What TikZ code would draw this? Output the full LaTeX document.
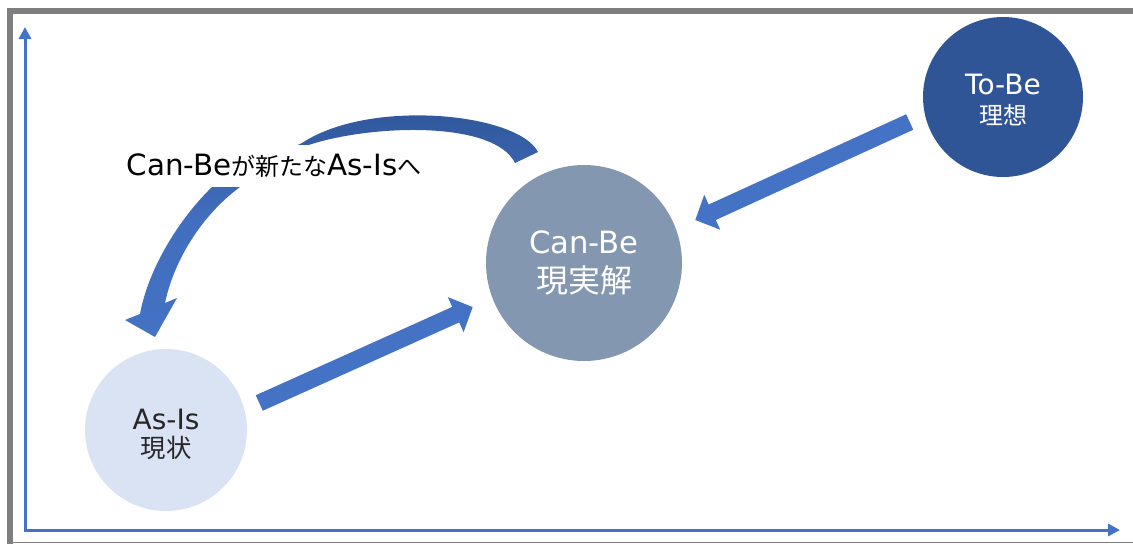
\documentclass[tikz,border=0pt]{standalone}
\usepackage{fontspec}
\setmainfont{DejaVu Sans}
\newfontfamily\jp{Noto Sans CJK JP}
\usetikzlibrary{arrows.meta,calc}

\definecolor{asisfill}{HTML}{DAE3F3}
\definecolor{canbefill}{HTML}{8497B0}
\definecolor{tobefill}{HTML}{2F5597}
\definecolor{arrowblue}{HTML}{4472C4}
\definecolor{framegray}{HTML}{7F7F7F}
\definecolor{textdark}{HTML}{262626}

\tikzset{
  stage/.style={circle, inner sep=0pt, align=center},
  blockarrow/.style={arrowblue, line width=12.75pt, -{Triangle[width=28pt,length=14pt]}},
  axisline/.style={arrowblue, line width=2.25pt, {Triangle[width=9pt,length=9pt]}-{Triangle[width=9pt,length=9pt]}},
}

\begin{document}
\begin{tikzpicture}[x=0.75pt,y=0.75pt,yscale=-1,xscale=1]
	\useasboundingbox (0,0) rectangle (1133,544);
	
	%Frame
	\fill[framegray] (7,8) rectangle (1133,14);
	\fill[framegray] (7,8) rectangle (13,544);
	\fill[framegray] (7,541.5) rectangle (1133,543);
	
	%Axes
	\coordinate (origin) at (25,530);
	\coordinate (ytop) at (25,27);
	\coordinate (xend) at (1120,530);
	\draw[axisline] (ytop) -- (origin) -- (xend);
	
	%Circles
	\node[stage, fill=asisfill, minimum size=121.5pt, text=textdark, font=\fontsize{21}{21}\selectfont] (asis) at (166,430) {\rule{0pt}{22.5pt}As-Is\\{\jp\fontsize{19}{21}\selectfont 現状}};
	\node[stage, fill=canbefill, minimum size=147pt, text=white, font=\fontsize{23}{29}\selectfont] (canbe) at (584,263) {Can-Be\\{\jp\fontsize{24}{29}\selectfont 現実解}};
	\node[stage, fill=tobefill, minimum size=120pt, text=white, font=\fontsize{21}{22}\selectfont] (tobe) at (1003,97) {\rule{0pt}{20pt}To-Be\\{\jp\fontsize{18}{22}\selectfont 理想}};
	
	%Block arrows
	\draw[blockarrow] ($(asis.east)+(12,-27)$) -- ($(canbe.west)+(-13,44)$);
	\draw[blockarrow] ($(tobe.west)+(-13,25)$) -- ($(canbe.east)+(13,-43)$);
	
	%Curved arrow
	\shade[top color=tobefill, bottom color=arrowblue, middle color=arrowblue!85!tobefill] (538,152) .. controls (518,113) and (370,98) .. (302,143) .. controls (265,160) and (235,168) .. (212,187) .. controls (178,220) and (148,270) .. (140,314) -- (125,320) -- (155,337) -- (177,298) -- (165,303) .. controls (174,260) and (202,215) .. (240,187) .. controls (265,168) and (290,150) .. (315,143) .. controls (380,124) and (495,122) .. (515,163) -- cycle;
	
	% Text Node
	\node[fill=white, minimum width=241.5pt, minimum height=31.5pt, inner sep=0pt, text=black, font=\fontsize{22}{22}\selectfont] (loop) at (274,166) {Can-Be{\jp\fontsize{18}{18}\selectfont が新たな}As-Is{\jp\fontsize{18}{18}\selectfont へ}};
	
\end{tikzpicture}
\end{document}
